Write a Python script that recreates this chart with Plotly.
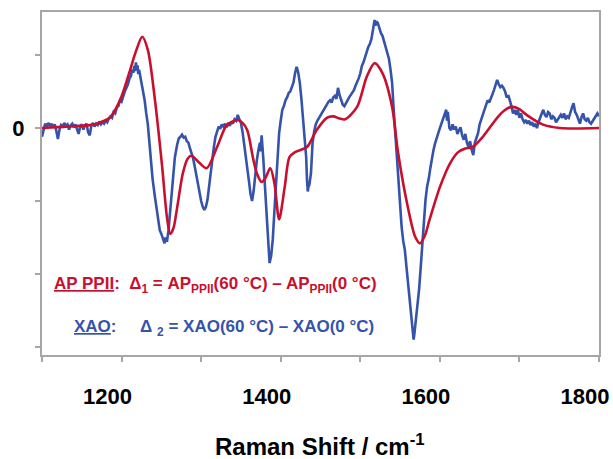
import plotly.graph_objects as go

# ---------------- data ----------------
# AP PPII difference spectrum (red, smooth)
red_x = [1100, 1130, 1160, 1169, 1185, 1198, 1210, 1218, 1226, 1233,
         1242, 1251, 1257, 1261, 1265, 1270, 1277, 1283, 1288, 1298,
         1307, 1320, 1332, 1340, 1346, 1352, 1358, 1365, 1370, 1376,
         1381, 1387, 1392, 1398, 1405, 1411, 1418, 1433, 1445, 1458,
         1466, 1474, 1481, 1496, 1508, 1518, 1528, 1540, 1547, 1558,
         1569, 1575, 1581, 1587, 1600, 1613, 1623, 1632, 1641, 1654,
         1672, 1681, 1690, 1700, 1709, 1729, 1751, 1800]
red_y = [0.00, 0.02, 0.04, 0.06, 0.14, 0.38, 0.77, 1.05, 1.25, 1.07,
         0.38, -0.53, -1.22, -1.45, -1.38, -1.08, -0.62, -0.42, -0.38, -0.48,
         -0.55, -0.26, 0.04, 0.09, 0.11, 0.07, -0.03, -0.40, -0.62, -0.74,
         -0.68, -0.55, -0.75, -1.25, -0.81, -0.40, -0.33, -0.26, -0.03, 0.14,
         0.16, 0.13, 0.12, 0.29, 0.70, 0.89, 0.75, 0.29, -0.30, -0.99,
         -1.49, -1.58, -1.48, -1.26, -0.81, -0.48, -0.33, -0.28, -0.26, -0.12,
         0.14, 0.24, 0.29, 0.26, 0.18, 0.05, 0.00, 0.00]

# XAO difference spectrum (blue, noisy) as (Raman shift, intensity) pairs
blue_xy = [
    (1100, -0.12), (1102, -0.02), (1104, 0.06), (1106, 0.02), (1108, 0.07),
    (1110, 0.03), (1112, 0.06), (1114, 0.01), (1116, 0.05), (1118, -0.04),
    (1120, -0.15), (1122, -0.02), (1124, 0.04), (1126, 0.02), (1128, 0.07),
    (1130, 0.03), (1132, 0.05), (1134, -0.02), (1136, 0.04), (1138, 0.06),
    (1140, 0.01), (1142, 0.05), (1144, -0.03), (1146, -0.08), (1148, 0.02),
    (1150, 0.05), (1152, -0.02), (1154, 0.04), (1156, 0.06), (1158, -0.06),
    (1160, -0.10), (1162, 0.03), (1164, 0.07), (1166, 0.02), (1168, 0.06),
    (1170, 0.04), (1172, 0.09), (1174, 0.05), (1176, 0.08), (1178, 0.06),
    (1180, 0.10), (1182, 0.08), (1184, 0.13), (1186, 0.16), (1188, 0.14),
    (1190, 0.22), (1192, 0.20), (1194, 0.28), (1196, 0.30), (1198, 0.38),
    (1200, 0.36), (1202, 0.45), (1204, 0.50), (1206, 0.55), (1208, 0.60),
    (1210, 0.68), (1212, 0.72), (1213, 0.80), (1215, 0.76), (1216, 0.85),
    (1217, 0.78), (1218, 0.90), (1219, 0.80), (1220, 0.86), (1221, 0.74),
    (1222, 0.80), (1224, 0.70), (1225, 0.62), (1227, 0.50), (1229, 0.38),
    (1231, 0.20), (1233, 0.05), (1235, -0.20), (1237, -0.45), (1239, -0.70),
    (1242, -0.95), (1244, -1.10), (1246, -1.25), (1248, -1.40), (1250, -1.45),
    (1252, -1.52), (1254, -1.58), (1255, -1.50), (1257, -1.56), (1259, -1.40),
    (1261, -1.17), (1263, -0.90), (1265, -0.62), (1267, -0.40), (1270, -0.22),
    (1272, -0.14), (1274, -0.12), (1276, -0.09), (1278, -0.13), (1280, -0.12),
    (1282, -0.18), (1284, -0.20), (1286, -0.28), (1288, -0.35), (1290, -0.42),
    (1292, -0.53), (1294, -0.65), (1296, -0.78), (1298, -0.90), (1300, -1.00),
    (1302, -1.08), (1304, -1.12), (1306, -1.08), (1308, -0.98), (1310, -0.80),
    (1312, -0.60), (1314, -0.42), (1316, -0.26), (1318, -0.12), (1320, -0.06),
    (1322, 0.02), (1324, -0.01), (1326, 0.05), (1328, 0.02), (1330, 0.06),
    (1332, 0.01), (1334, 0.07), (1336, 0.03), (1338, 0.09), (1340, 0.06),
    (1342, 0.12), (1344, 0.10), (1346, 0.18), (1348, 0.12), (1350, 0.07),
    (1352, -0.05), (1354, -0.20), (1356, -0.35), (1358, -0.55), (1360, -0.72),
    (1362, -0.90), (1364, -1.00), (1366, -0.86), (1368, -0.62), (1370, -0.44),
    (1372, -0.30), (1374, -0.20), (1375, -0.32), (1376, -0.10), (1378, -0.40),
    (1380, -0.75), (1382, -1.10), (1384, -1.44), (1386, -1.85), (1388, -1.75),
    (1390, -1.53), (1392, -1.15), (1394, -0.75), (1396, -0.40), (1398, -0.07),
    (1400, 0.10), (1402, 0.25), (1404, 0.30), (1406, 0.38), (1408, 0.42),
    (1410, 0.48), (1412, 0.50), (1414, 0.56), (1416, 0.62), (1418, 0.75),
    (1419, 0.80), (1420, 0.84), (1422, 0.76), (1424, 0.62), (1426, 0.40),
    (1428, 0.15), (1430, -0.15), (1432, -0.40), (1433, -0.70), (1434, -0.87),
    (1435, -0.80), (1436, -0.78), (1438, -0.62), (1440, -0.21), (1442, -0.05),
    (1444, 0.05), (1446, 0.10), (1448, 0.14), (1450, 0.18), (1452, 0.22),
    (1454, 0.26), (1456, 0.29), (1458, 0.33), (1460, 0.36), (1462, 0.38),
    (1464, 0.35), (1466, 0.42), (1468, 0.44), (1470, 0.40), (1472, 0.55),
    (1474, 0.45), (1476, 0.38), (1478, 0.32), (1480, 0.30), (1482, 0.35),
    (1484, 0.38), (1486, 0.42), (1488, 0.45), (1490, 0.48), (1492, 0.52),
    (1494, 0.58), (1496, 0.62), (1498, 0.68), (1500, 0.75), (1502, 0.85),
    (1504, 0.90), (1506, 0.98), (1508, 1.05), (1510, 1.11), (1512, 1.15),
    (1514, 1.22), (1516, 1.35), (1518, 1.48), (1519, 1.40), (1520, 1.46),
    (1522, 1.44), (1524, 1.36), (1526, 1.30), (1528, 1.26), (1530, 1.18),
    (1532, 1.12), (1534, 1.02), (1536, 0.95), (1538, 0.80), (1540, 0.62),
    (1542, 0.25), (1544, -0.10), (1546, -0.45), (1548, -0.75), (1550, -1.05),
    (1552, -1.36), (1554, -1.55), (1556, -1.67), (1558, -1.90), (1560, -2.12),
    (1562, -2.30), (1564, -2.55), (1566, -2.80), (1567, -2.90), (1568, -2.82),
    (1570, -2.60), (1572, -2.45), (1574, -2.20), (1576, -1.90), (1578, -1.60),
    (1580, -1.20), (1582, -0.98), (1584, -0.80), (1586, -0.70), (1588, -0.55),
    (1590, -0.40), (1592, -0.30), (1594, -0.21), (1596, -0.12), (1598, -0.07),
    (1600, 0.00), (1602, 0.06), (1604, 0.12), (1606, 0.18), (1608, 0.25),
    (1609, 0.10), (1610, 0.22), (1612, 0.00), (1614, -0.03), (1616, 0.05),
    (1618, -0.02), (1620, 0.02), (1622, -0.08), (1624, -0.03), (1626, 0.01),
    (1628, -0.10), (1630, -0.16), (1632, -0.08), (1634, -0.20), (1636, -0.26),
    (1638, -0.18), (1640, -0.30), (1642, -0.37), (1644, -0.20), (1646, -0.12),
    (1648, -0.07), (1650, 0.05), (1652, 0.11), (1654, 0.18), (1656, 0.25),
    (1658, 0.30), (1660, 0.38), (1662, 0.35), (1664, 0.42), (1666, 0.46),
    (1668, 0.52), (1670, 0.58), (1672, 0.66), (1674, 0.60), (1676, 0.56),
    (1678, 0.58), (1680, 0.55), (1682, 0.50), (1684, 0.42), (1686, 0.45),
    (1688, 0.38), (1690, 0.30), (1692, 0.20), (1694, 0.25), (1696, 0.18),
    (1698, 0.25), (1700, 0.14), (1702, 0.20), (1704, 0.12), (1706, 0.08),
    (1708, 0.11), (1710, 0.06), (1712, 0.10), (1714, 0.04), (1716, 0.08),
    (1718, 0.02), (1720, 0.06), (1722, 0.00), (1724, 0.08), (1726, 0.15),
    (1728, 0.20), (1730, 0.25), (1732, 0.18), (1734, 0.15), (1736, 0.22),
    (1738, 0.20), (1740, 0.12), (1742, 0.16), (1744, 0.14), (1746, 0.08),
    (1748, 0.12), (1750, 0.15), (1752, 0.18), (1754, 0.14), (1756, 0.20),
    (1758, 0.12), (1760, 0.16), (1762, 0.14), (1764, 0.22), (1766, 0.28),
    (1768, 0.34), (1770, 0.22), (1772, 0.18), (1774, 0.12), (1776, 0.06),
    (1778, 0.15), (1780, 0.20), (1782, 0.12), (1784, 0.10), (1786, 0.14),
    (1788, 0.08), (1790, 0.06), (1792, 0.10), (1794, 0.14), (1796, 0.17),
    (1798, 0.20), (1800, 0.16),
]
blue_x = [p[0] for p in blue_xy]
blue_y = [p[1] for p in blue_xy]

x_tick_vals = [1200, 1400, 1600, 1800]
x_tick_text = ["1200", "1400", "1600", "1800"]
x_minor_vals = [1100, 1300, 1500, 1700]
y_tick_vals = [1, 0, -1, -2, -3]
y_tick_text = ["", "0", "", "", ""]

RED = "#C8102E"
BLUE = "#3553AB"
AXIS = "#A6A6A6"

fig = go.Figure()
fig.add_trace(go.Scatter(x=blue_x, y=blue_y, mode="lines",
                         line=dict(color=BLUE, width=2.6), showlegend=False))
fig.add_trace(go.Scatter(x=red_x, y=red_y, mode="lines",
                         line=dict(color=RED, width=2.6, shape="spline", smoothing=0.8),
                         showlegend=False))

tick_font = dict(family="Liberation Sans, Arial", size=22, color="black", weight="bold")

fig.update_layout(
    width=613, height=459,
    margin=dict(l=42, r=14, t=12, b=104, autoexpand=False),
    paper_bgcolor="white", plot_bgcolor="white",
    xaxis=dict(range=[1100, 1800], showgrid=False, zeroline=False, automargin=False,
               showline=True, linecolor=AXIS, linewidth=2, mirror=True,
               tickmode="array", tickvals=x_tick_vals, ticktext=x_tick_text,
               ticks="outside", ticklen=5, tickcolor=AXIS, tickwidth=1.5,
               minor=dict(tickvals=x_minor_vals, ticks="outside", ticklen=5,
                          tickcolor=AXIS, tickwidth=1.5),
               tickfont=tick_font, ticklabelshift=-14, ticklabelstandoff=16),
    yaxis=dict(range=[-3.11, 1.59], showgrid=False, zeroline=False, automargin=False,
               showline=True, linecolor=AXIS, linewidth=2, mirror=True,
               tickmode="array", tickvals=y_tick_vals, ticktext=y_tick_text,
               ticks="outside", ticklen=5, tickcolor=AXIS, tickwidth=1.5,
               tickfont=tick_font, ticklabelstandoff=6),
)

fig.add_annotation(xref="paper", yref="paper", x=0.499, y=-0.262,
                   xanchor="center", yanchor="middle", showarrow=False,
                   text="<b>Raman Shift / cm<sup>-1</sup></b>",
                   font=dict(family="Liberation Sans, Arial", size=24, color="black"))

leg_font = "Liberation Sans, Arial"
fig.add_annotation(xref="paper", yref="paper", x=0.018, y=0.204,
                   xanchor="left", yanchor="middle", showarrow=False,
                   text="<b><u>AP PPII</u>:\u00a0 Δ<sub>1</sub> = AP<sub>PPII</sub>(60 °C) – AP<sub>PPII</sub>(0 °C)</b>",
                   font=dict(family=leg_font, size=17, color=RED))
fig.add_annotation(xref="paper", yref="paper", x=0.054, y=0.079,
                   xanchor="left", yanchor="middle", showarrow=False,
                   text="<b><u>XAO</u>:\u00a0\u00a0\u00a0\u00a0 Δ <sub>2</sub> = XAO(60 °C) – XAO(0 °C)</b>",
                   font=dict(family=leg_font, size=17, color=BLUE))

fig.write_html("out.html", config={"displayModeBar": False},
               post_script="document.body.style.margin='0';document.body.style.padding='0';")
